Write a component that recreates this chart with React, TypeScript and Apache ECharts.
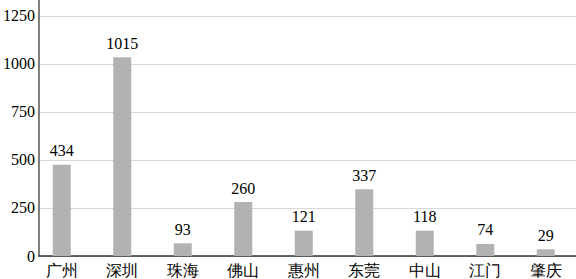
import React, { useEffect, useRef } from "react";
import * as echarts from "echarts";

const categories = ["广州", "深圳", "珠海", "佛山", "惠州", "东莞", "中山", "江门", "肇庆"];
// bar heights as drawn
const barValues = [475, 1035, 66, 281, 132, 347, 132, 63, 35];
// numbers printed above the bars
const labelValues = [434, 1015, 93, 260, 121, 337, 118, 74, 29];
const yMin = 0;
const yMax = 1333;
const yInterval = 250;

export default function App() {
  const ref = useRef<HTMLDivElement>(null);
  useEffect(() => {
    if (!ref.current) return;
    const chart = echarts.init(ref.current, undefined, { renderer: "svg" });
    const serif = "Liberation Serif, Times New Roman, serif";
    chart.setOption({
      animation: false,
      backgroundColor: "#ffffff",
      textStyle: { fontFamily: serif },
      grid: [
        { left: 37.5, right: 0, top: 0, bottom: 23, containLabel: false },
        { left: 31.5, right: 0, top: 0, bottom: 23, containLabel: false },
      ],
      xAxis: [
        {
          type: "category",
          gridIndex: 0,
          data: categories,
          axisLine: { show: true, lineStyle: { color: "#333333", width: 1.5 } },
          axisTick: { show: false },
          axisLabel: { show: false },
        },
        {
          type: "category",
          gridIndex: 1,
          data: categories,
          axisLine: { show: false },
          axisTick: { show: false },
          axisLabel: { color: "#000000", fontFamily: serif, fontSize: 16, margin: 6 },
        },
      ],
      yAxis: [
        {
          type: "value",
          gridIndex: 0,
          min: yMin,
          max: yMax,
          interval: yInterval,
          axisLine: { show: true, lineStyle: { color: "#555555", width: 1.5 } },
          axisTick: { show: false },
          axisLabel: {
            color: "#000000",
            fontFamily: serif,
            fontSize: 16,
            margin: 4,
            showMaxLabel: false,
            formatter: (v: number) => String(v),
          },
          splitLine: { show: true, showMaxLine: false, lineStyle: { color: "#d8d8d8", width: 1 } },
        },
        {
          type: "value",
          gridIndex: 1,
          min: yMin,
          max: yMax,
          interval: yInterval,
          show: false,
          splitLine: { show: false },
        },
      ],
      series: [
        {
          type: "bar",
          xAxisIndex: 1,
          yAxisIndex: 1,
          data: barValues,
          barWidth: 18,
          itemStyle: { color: "#b2b2b2" },
          label: {
            show: true,
            position: "top",
            distance: 6,
            color: "#000000",
            fontFamily: serif,
            fontSize: 16,
            formatter: (p: any) => String(labelValues[p.dataIndex]),
          },
        },
      ],
    });
    return () => chart.dispose();
  }, []);
  return (
    <div
      ref={ref}
      style={{ position: "fixed", left: 0, top: 0, width: 576, height: 279, background: "#fff" }}
    />
  );
}
